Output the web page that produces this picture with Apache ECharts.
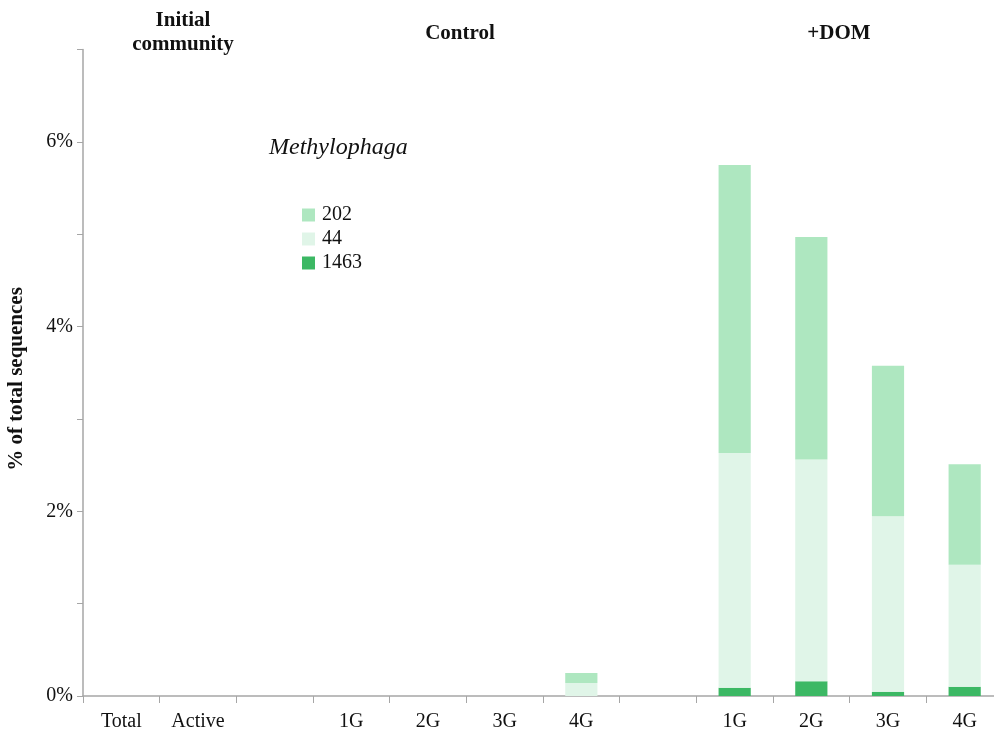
<!DOCTYPE html>
<html>
<head>
<meta charset="utf-8">
<script src="https://cdn.jsdelivr.net/npm/echarts@6/dist/echarts.min.js"></script>
<style>html,body{margin:0;padding:0;background:#fff}#c{width:994px;height:735px}</style>
</head>
<body>
<div id="c"></div>
<script>
const categories = ['Total','Active','','1G','2G','3G','4G','','1G','2G','3G','4G'];
const s1463 = [0, 0, 0, 0, 0, 0, 0, 0, 0.09, 0.16, 0.045, 0.10];
const s44   = [0, 0, 0, 0, 0, 0, 0.14, 0, 2.54, 2.40, 1.90, 1.32];
const s202  = [0, 0, 0, 0, 0, 0, 0.11, 0, 3.12, 2.41, 1.63, 1.09];
const yTicks = [0, 2, 4, 6];
const groupHeaders = [
  {text: 'Initial\ncommunity', x: 183, y: 33},
  {text: 'Control', x: 460, y: 34},
  {text: '+DOM', x: 839, y: 34}
];
const font = 'Liberation Serif, Times New Roman, serif';
const chart = echarts.init(document.getElementById('c'));
chart.setOption({
  animation: false,
  backgroundColor: '#fff',
  title: {
    text: 'Methylophaga', left: 264, top: 131,
    textStyle: {fontFamily: font, fontStyle: 'italic', fontWeight: 'normal', fontSize: 24, color: '#111'}
  },
  legend: {
    orient: 'vertical', left: 297, top: 200,
    itemWidth: 13, itemHeight: 13, itemGap: 4,
    data: ['202', '44', '1463'],
    textStyle: {fontFamily: font, fontSize: 20, color: '#111', padding: [0,0,0,2]},
    icon: 'rect'
  },
  grid: {left: 83, right: -9, top: 49.5, bottom: 39, containLabel: false, outerBoundsMode: 'none'},
  xAxis: {
    type: 'category', data: categories,
    axisLine: {lineStyle: {color: '#a6a6a6', width: 1.5}},
    axisTick: {show: true, length: 7, lineStyle: {color: '#a6a6a6'}},
    axisLabel: {fontFamily: font, fontSize: 20, color: '#111', margin: 16, interval: 0}
  },
  yAxis: {
    type: 'value', min: 0, max: 7, interval: 1,
    axisLine: {show: true, lineStyle: {color: '#a6a6a6', width: 1.5}},
    axisTick: {show: true, length: 6, lineStyle: {color: '#a6a6a6'}},
    splitLine: {show: false},
    axisLabel: {
      fontFamily: font, fontSize: 20, color: '#111', margin: 10,
      formatter: v => yTicks.includes(v) ? v + '%' : ''
    }
  },
  series: [
    {name: '1463', type: 'bar', stack: 'a', data: s1463, barWidth: '42%', itemStyle: {color: '#3cb864'}},
    {name: '44', type: 'bar', stack: 'a', data: s44, barWidth: '42%', itemStyle: {color: '#e0f5e8'}},
    {name: '202', type: 'bar', stack: 'a', data: s202, barWidth: '42%', itemStyle: {color: '#aee7c0'}}
  ],
  graphic: groupHeaders.map(h => ({
    type: 'text', x: h.x, y: h.y,
    style: {text: h.text, fontFamily: font, fontWeight: 'bold', fontSize: 21, fill: '#111',
            align: 'center', verticalAlign: 'middle', lineHeight: 24}
  })).concat([{
    type: 'text', x: 17, y: 379, rotation: Math.PI / 2,
    style: {text: '% of total sequences', fontFamily: font, fontWeight: 'bold', fontSize: 21, fill: '#111',
            align: 'center', verticalAlign: 'middle'}
  }])
});
</script>
</body>
</html>
